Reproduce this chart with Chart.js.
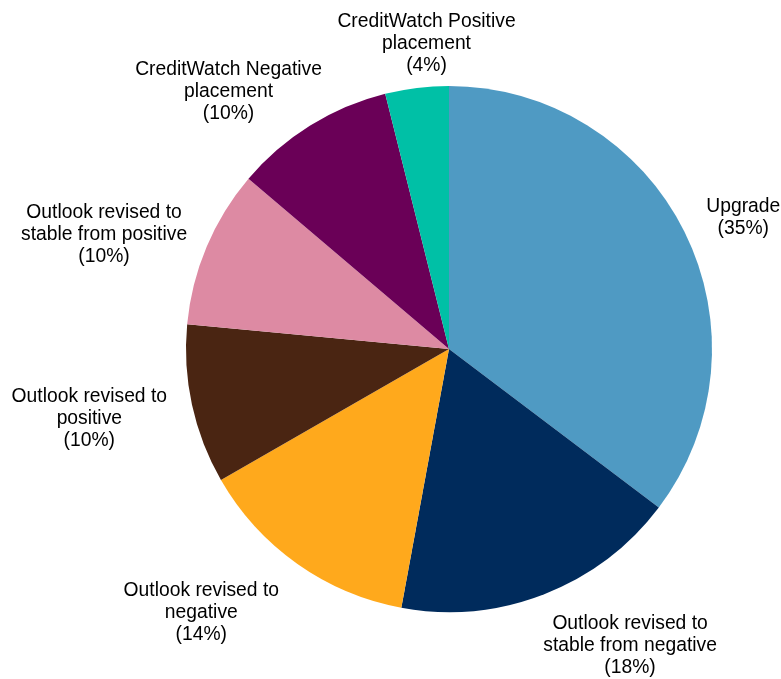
<!DOCTYPE html>
<html>
<head>
<meta charset="utf-8">
<script src="https://cdn.jsdelivr.net/npm/chart.js@4/dist/chart.umd.min.js"></script>
<style>
  html, body { margin: 0; padding: 0; background: #fff; }
  #wrap { width: 781px; height: 679px; position: relative; }
</style>
</head>
<body>
<div id="wrap"><canvas id="pieChart" width="781" height="679"></canvas></div>
<script>
const categories = [
  ['Upgrade'],
  ['Outlook revised to', 'stable from negative'],
  ['Outlook revised to', 'negative'],
  ['Outlook revised to', 'positive'],
  ['Outlook revised to', 'stable from positive'],
  ['CreditWatch Negative', 'placement'],
  ['CreditWatch Positive', 'placement'],
];
// slice sizes (labels show them rounded)
const shares = [35.3, 17.6, 13.8, 9.8, 9.7, 9.9, 3.9];
const sliceColors = ['#4f9ac3', '#002b5c', '#ffa91c', '#4a2512', '#dd8aa3', '#6a0057', '#00c0a6'];

const labelFont = '19.3px "Liberation Sans", Arial, sans-serif';
const lineHeight = 22;
const labelGap = 12;
// small hand tweaks so the label blocks sit where the original placed them
const labelNudge = [[15, 1], [50, 10], [-44, 12], [-15, 4], [-15, 5], [-26, 4], [22, 0]];

const outsideLabels = {
  id: 'outsideLabels',
  afterDraw(chart) {
    const ctx = chart.ctx;
    const meta = chart.getDatasetMeta(0);
    ctx.save();
    ctx.font = labelFont;
    ctx.fillStyle = '#000';
    ctx.textAlign = 'center';
    ctx.textBaseline = 'middle';
    meta.data.forEach((arc, i) => {
      const lines = [...categories[i], '(' + Math.round(shares[i]) + '%)'];
      const w = Math.max(...lines.map((l) => ctx.measureText(l).width));
      const h = lines.length * lineHeight;
      const mid = (arc.startAngle + arc.endAngle) / 2;
      const dx = Math.cos(mid);
      const dy = Math.sin(mid);
      const r = arc.outerRadius + labelGap;
      const cx = arc.x + dx * r + dx * w / 2 + labelNudge[i][0];
      const cy = arc.y + dy * r + dy * h / 2 + labelNudge[i][1];
      lines.forEach((line, j) => {
        ctx.fillText(line, cx, cy - h / 2 + lineHeight * (j + 0.5));
      });
    });
    ctx.restore();
  },
};

new Chart(document.getElementById('pieChart'), {
  type: 'pie',
  data: {
    labels: categories.map((c) => c.join(' ')),
    datasets: [{
      data: shares,
      backgroundColor: sliceColors,
      borderWidth: 0,
    }],
  },
  options: {
    responsive: false,
    animation: false,
    layout: { padding: { top: 86, bottom: 67, left: 186, right: 69 } },
    plugins: { legend: { display: false }, tooltip: { enabled: false } },
  },
  plugins: [outsideLabels],
});
</script>
</body>
</html>
